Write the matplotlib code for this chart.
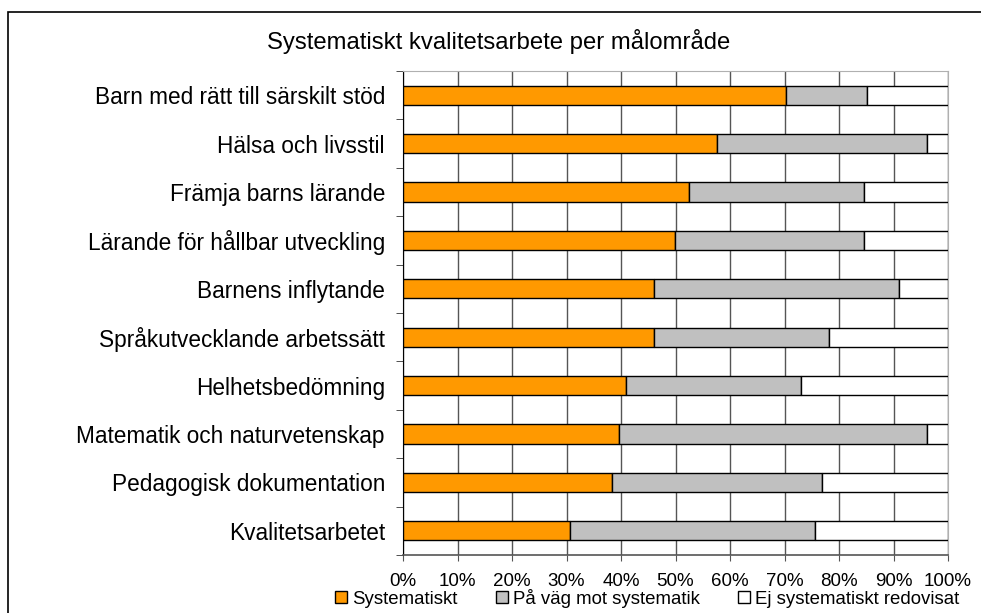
import numpy as np
import matplotlib.pyplot as plt
from matplotlib.patches import Rectangle

plt.rcParams['font.family'] = ['Liberation Sans', 'DejaVu Sans']

categories = [
    "Barn med rätt till särskilt stöd",
    "Hälsa och livsstil",
    "Främja barns lärande",
    "Lärande för hållbar utveckling",
    "Barnens inflytande",
    "Språkutvecklande arbetssätt",
    "Helhetsbedömning",
    "Matematik och naturvetenskap",
    "Pedagogisk dokumentation",
    "Kvalitetsarbetet",
]
systematiskt = np.array([70.2, 57.6, 52.5, 49.9, 46.1, 46.0, 41.0, 39.7, 38.4, 30.7])
pa_vag = np.array([14.9, 38.5, 32.1, 34.7, 44.9, 32.1, 32.0, 56.4, 38.5, 44.9])
ej = 100 - systematiskt - pa_vag

series = ["Systematiskt", "På väg mot systematik", "Ej systematiskt redovisat"]
colors = ["#FF9900", "#C0C0C0", "#FFFFFF"]
xticklabels = [f"{v}%" for v in range(0, 101, 10)]

fig = plt.figure(figsize=(9.81, 6.13), dpi=100)
ax = fig.add_axes([403 / 981, 1 - 555 / 613, 545 / 981, 484 / 613])

# outer chart border (runs off right and bottom edges)
fig.patches.append(Rectangle((8 / 981, -0.05), 1.1, 1 - 12 / 613 + 0.05,
                             transform=fig.transFigure, fill=False,
                             edgecolor="black", linewidth=1.2))

y = np.arange(len(categories))
left = np.zeros(len(categories))
for vals, col, name in zip([systematiskt, pa_vag, ej], colors, series):
    ax.barh(y, vals, left=left, height=0.4, color=col, edgecolor="black",
            linewidth=1.0, label=name, zorder=3)
    left = left + vals

ax.set_xlim(0, 100)
ax.set_ylim(len(categories) - 0.5, -0.5)
ax.set_xticks(np.arange(0, 101, 10))
ax.set_xticklabels(xticklabels, fontsize=13.5)
ax.set_yticks(y)
ax.set_yticklabels(categories, fontsize=16.3)
ax.set_yticks(np.arange(-0.5, len(categories), 1), minor=True)
ax.tick_params(axis="y", which="major", length=0, pad=13)
ax.tick_params(axis="y", which="minor", length=5, color="#333333", direction="out")
ax.tick_params(axis="x", length=4, color="#555555", pad=9)
ax.xaxis.grid(True, color="#555555", linewidth=1.0, zorder=0)
ax.set_axisbelow(True)

ax.spines["left"].set_color("black")
ax.spines["bottom"].set_color("#555555")
ax.spines["bottom"].set_linewidth(1.2)
ax.spines["top"].set_color("#B0B0B0")
ax.spines["right"].set_color("#B0B0B0")

fig.text(499 / 981, 1 - 42 / 613, "Systematiskt kvalitetsarbete per målområde",
         ha="center", va="center", fontsize=17.2)

fig.legend(loc="center", bbox_to_anchor=(0.66, 1 - 598 / 613), ncol=3,
           frameon=False, fontsize=13.4, handlelength=0.65, handleheight=0.65,
           handletextpad=0.27, columnspacing=2.05, borderpad=0)

fig.savefig("out.png", dpi=100)
